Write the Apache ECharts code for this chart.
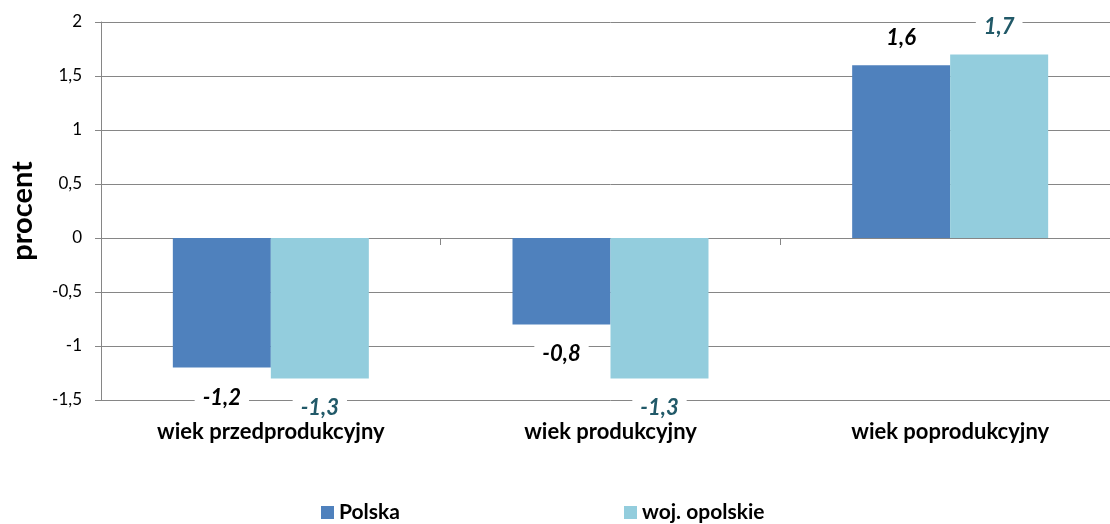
<!DOCTYPE html>
<html>
<head>
<meta charset="utf-8">
<script src="https://cdn.jsdelivr.net/npm/echarts@6/dist/echarts.min.js"></script>
<style>html,body{margin:0;padding:0;background:#fff;overflow:hidden}#c{width:1120px;height:524px}</style>
</head>
<body>
<div id="c"></div>
<script>
const categories = ['wiek przedprodukcyjny', 'wiek produkcyjny', 'wiek poprodukcyjny'];
const seriesNames = ['Polska', 'woj. opolskie'];
const polska = [-1.2, -0.8, 1.6];
const opolskie = [-1.3, -1.3, 1.7];
const yTicks = [-1.5, -1, -0.5, 0, 0.5, 1, 1.5, 2];

const FONT = 'Lato, "Open Sans", sans-serif';
const colors = ['#4F81BD', '#93CDDD'];
const labelColors = ['#000000', '#215968'];
const gridColor = '#868686';
const fmt = v => String(v).replace('.', ',');

function mkSeries(name, values, idx) {
  return {
    name: name,
    type: 'bar',
    xAxisIndex: 0,
    barWidth: 98,
    barGap: '0%',
    itemStyle: { color: colors[idx] },
    data: values.map(v => ({
      value: v,
      label: { position: v < 0 ? 'bottom' : 'top', distance: v < 0 ? 19 : 16 }
    })),
    label: {
      show: true,
      formatter: p => fmt(p.value),
      fontFamily: FONT,
      fontSize: 22,
      fontWeight: 'bold',
      fontStyle: 'italic',
      color: labelColors[idx],
      backgroundColor: '#ffffff',
      padding: [0, 8]
    }
  };
}

const legendText = { fontFamily: FONT, fontSize: 21, fontWeight: 'bold', color: '#000' };

const chart = echarts.init(document.getElementById('c'), null, { renderer: 'canvas' });
chart.setOption({
  animation: false,
  backgroundColor: '#ffffff',
  grid: { left: 97, right: 0, top: 22, bottom: 124, containLabel: false },
  legend: [
    { data: [seriesNames[0]], left: 321, top: 502, padding: 0, icon: 'rect', itemWidth: 13, itemHeight: 13, itemGap: 7, textStyle: legendText },
    { data: [seriesNames[1]], left: 624, top: 502, padding: 0, icon: 'rect', itemWidth: 13, itemHeight: 13, itemGap: 7, textStyle: legendText }
  ],
  xAxis: [
    {
      type: 'category',
      data: categories,
      axisLine: { onZero: true, lineStyle: { color: gridColor, width: 1 } },
      axisTick: { show: true, inside: false, length: 7, lineStyle: { color: gridColor } },
      axisLabel: { show: false },
      splitLine: { show: false }
    },
    {
      type: 'category',
      data: categories,
      position: 'bottom',
      axisLine: { show: false, onZero: false },
      axisTick: { show: false },
      axisLabel: { show: true, margin: 21, fontFamily: FONT, fontSize: 22, fontWeight: 'bold', color: '#000' },
      splitLine: { show: false }
    }
  ],
  yAxis: {
    type: 'value',
    min: yTicks[0],
    max: yTicks[yTicks.length - 1],
    interval: 0.5,
    name: 'procent',
    nameLocation: 'middle',
    nameGap: 64,
    nameTextStyle: { fontFamily: FONT, fontSize: 29, fontWeight: 'bold', color: '#000' },
    axisLine: { show: true, lineStyle: { color: gridColor, width: 1 } },
    axisTick: { show: true, length: 6, lineStyle: { color: gridColor } },
    axisLabel: { fontFamily: FONT, fontSize: 17, color: '#000', margin: 19, formatter: v => fmt(v) },
    splitLine: { show: true, lineStyle: { color: gridColor, width: 1 } }
  },
  series: [
    mkSeries(seriesNames[0], polska, 0),
    mkSeries(seriesNames[1], opolskie, 1)
  ]
});
</script>
</body>
</html>
